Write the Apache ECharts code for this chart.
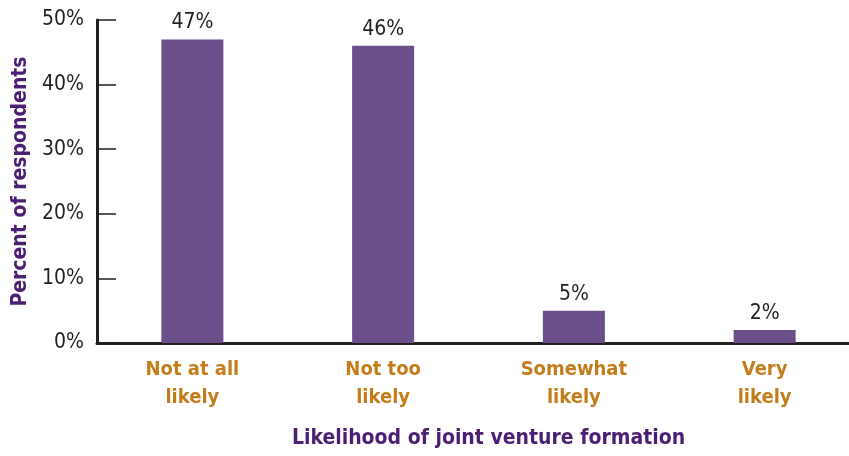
<!DOCTYPE html>
<html>
<head>
<meta charset="utf-8">
<script src="https://cdn.jsdelivr.net/npm/echarts@6/dist/echarts.min.js"></script>
<style>
  html, body { margin: 0; padding: 0; background: #fff; }
  #chart { width: 849px; height: 456px; }
</style>
</head>
<body>
<div id="chart"></div>
<script>
const categories = ['Not at all\nlikely', 'Not too\nlikely', 'Somewhat\nlikely', 'Very\nlikely'];
const percentValues = [47, 46, 5, 2];
const yTicks = [0, 10, 20, 30, 40, 50];

const FONT = '"Liberation Sans Narrow", "DejaVu Sans Condensed", "Roboto Condensed", "Liberation Sans", sans-serif';
const INK = '#231f20';
const PURPLE = '#6a4f8a';
const TITLE = '#4b1f73';
const ORANGE = '#c47d1b';

const chart = echarts.init(document.getElementById('chart'), null, { renderer: 'canvas' });

chart.setOption({
  animation: false,
  grid: {
    left: 97, width: 763, top: 20, bottom: 113,
    containLabel: false, outerBoundsMode: 'none'
  },
  xAxis: {
    type: 'category',
    data: categories,
    boundaryGap: true,
    axisLine: { lineStyle: { color: INK, width: 3 } },
    axisTick: { show: false },
    axisLabel: {
      color: ORANGE, fontFamily: FONT, fontWeight: 'bold', fontSize: 20,
      lineHeight: 28, margin: 13, interval: 0
    },
    name: 'Likelihood of joint venture formation',
    nameLocation: 'middle',
    nameGap: 85,
    nameTextStyle: {
      color: TITLE, fontFamily: FONT, fontWeight: 'bold', fontSize: 21,
      padding: [0, 0, 0, 20]
    }
  },
  yAxis: {
    type: 'value',
    min: yTicks[0],
    max: yTicks[yTicks.length - 1],
    interval: 10,
    axisLine: { show: true, lineStyle: { color: INK, width: 3 } },
    axisTick: { show: true, inside: true, length: 19, lineStyle: { color: INK, width: 1.5 } },
    splitLine: { show: false },
    axisLabel: {
      color: INK, fontFamily: FONT, fontSize: 21, margin: 13,
      formatter: v => v + '%'
    },
    name: 'Percent of respondents',
    nameLocation: 'middle',
    nameGap: 64,
    nameRotate: 90,
    nameTextStyle: { color: TITLE, fontFamily: FONT, fontWeight: 'bold', fontSize: 21 }
  },
  series: [{
    type: 'bar',
    data: percentValues,
    barWidth: 62,
    itemStyle: { color: PURPLE },
    label: {
      show: true, position: 'top', distance: 6,
      color: INK, fontFamily: FONT, fontSize: 21,
      formatter: p => p.value + '%'
    }
  }]
});
</script>
</body>
</html>
